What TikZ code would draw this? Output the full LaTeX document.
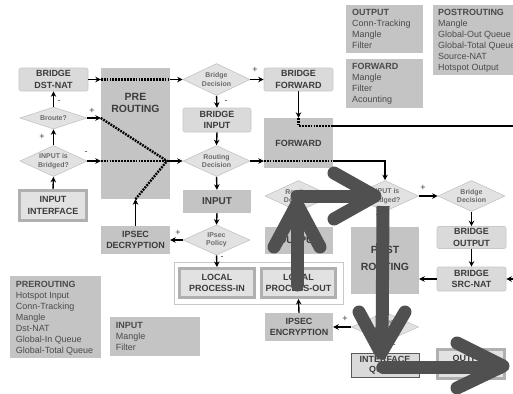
\documentclass[tikz,border=0pt]{standalone}
\usepackage{fontspec}
\setmainfont{Liberation Sans}
\usetikzlibrary{shapes.geometric,arrows.meta}
\definecolor{lfill}{RGB}{218,218,218}
\definecolor{lbord}{RGB}{200,200,200}
\definecolor{dfill}{RGB}{196,196,196}
\definecolor{difill}{RGB}{226,226,226}
\definecolor{dibord}{RGB}{196,196,196}
\definecolor{txt}{RGB}{60,60,60}
\definecolor{ltxt}{RGB}{75,75,75}
\definecolor{bigc}{RGB}{80,80,80}
\definecolor{bevface}{RGB}{226,226,226}
\definecolor{bevedge}{RGB}{176,176,176}
\begin{document}
\begin{tikzpicture}[x=1bp,y=-1bp,
 lbox/.style={rectangle,rounded corners=2bp,fill=lfill,draw=lbord,line width=0.6bp,inner sep=0pt,align=center,text=txt,font=\bfseries\fontsize{9}{11.5}\selectfont},
 dbox/.style={rectangle,fill=dfill,inner sep=0pt,align=center,text=txt,font=\bfseries\fontsize{9}{11}\selectfont},
 lstbox/.style={rectangle,fill=dfill,inner sep=0pt},
 lsttxt/.style={anchor=north west,inner sep=0pt,align=left,text=ltxt,font=\fontsize{9}{11}\selectfont},
 dia/.style={diamond,aspect=2,fill=difill,draw=dibord,line width=0.6bp,inner sep=0pt,align=center,text=black!58,font=\bfseries\fontsize{7}{8.6}\selectfont,minimum width=67bp,minimum height=31bp},
 bev/.style={rectangle,fill=bevface,draw=bevedge,line width=2.6bp,inner sep=0pt,align=center,text=txt,font=\bfseries\fontsize{9}{11.6}\selectfont},
 arr/.style={draw=black,line width=1.4bp,-{Stealth[length=5.5bp,width=5.5bp]}},
 thinl/.style={draw=black,line width=1.4bp},
 dots/.style={draw=black,line width=2.4bp,dash pattern=on 1.8bp off 1.1bp},
 pm/.style={inner sep=0pt,text=txt,font=\fontsize{9}{9}\selectfont},
 big/.style={draw=bigc,line width=13bp,line cap=round,line join=round},
]
\useasboundingbox (0,0) rectangle (513,393);
\clip (0,0) rectangle (513,393);
\fill[white] (0,0) rectangle (513,393);

% list boxes
\node[lstbox,minimum width=77bp,minimum height=48bp] (lout) at (384.5,29) {};
\node[lsttxt] (loutt) at (352,9.1) {\textbf{OUTPUT}\\Conn-Tracking\\Mangle\\Filter};
\node[lstbox,minimum width=77bp,minimum height=49bp] (lfwd) at (384.5,83.5) {};
\node[lsttxt] (lfwdt) at (352,63.5) {\textbf{FORWARD}\\Mangle\\Filter\\Acounting};
\node[lstbox,minimum width=90bp,minimum height=70bp] (lpost) at (478,40) {};
\node[lsttxt] (lpostt) at (438,9.1) {\textbf{POSTROUTING}\\Mangle\\Global-Out Queue\\Global-Total Queue\\Source-NAT\\Hotspot Output};
\node[lstbox,minimum width=91bp,minimum height=82bp] (lpre) at (55.5,317) {};
\node[lsttxt] (lpret) at (15.7,281.1) {\textbf{PREROUTING}\\Hotspot Input\\Conn-Tracking\\Mangle\\Dst-NAT\\Global-In Queue\\Global-Total Queue};
\node[lstbox,minimum width=90bp,minimum height=39bp] (linp) at (155,336.5) {};
\node[lsttxt] (linpt) at (115.7,321.8) {\textbf{INPUT}\\Mangle\\Filter};

% dark boxes
\node[dbox,minimum width=69bp,minimum height=131bp] (pre) at (135.5,133.5) {};
\node[dbox,fill=none,font=\bfseries\fontsize{10.5}{12}\selectfont] (pretxt) at (135.5,103) {PRE\\ROUTING};
\node[dbox,minimum width=69bp,minimum height=50bp] (fwd) at (298.5,143) {FORWARD};
\node[dbox,minimum width=68bp,minimum height=67bp] (post) at (385,260.5) {};
\node[dbox,fill=none,font=\bfseries\fontsize{10.5}{17}\selectfont] (posttxt) at (385,258) {POST\\ROUTING};
\node[dbox,minimum width=68bp,minimum height=23bp,font=\bfseries\fontsize{10}{12}\selectfont] (inp) at (217,201.5) {INPUT};
\node[dbox,minimum width=69bp,minimum height=28bp] (ipdec) at (135.5,240) {IPSEC\\DECRYPTION};
\node[dbox,minimum width=68bp,minimum height=27bp,font=\bfseries\fontsize{10}{12}\selectfont] (outb) at (299,240.5) {OUTPUT};
\node[dbox,minimum width=68bp,minimum height=28bp,font=\bfseries\fontsize{9}{11.5}\selectfont] (ipenc) at (299,327) {IPSEC\\ENCRYPTION};

% light boxes
\node[lbox,minimum width=69bp,minimum height=23bp] (bdn) at (53.5,79.5) {BRIDGE\\DST-NAT};
\node[lbox,minimum width=69bp,minimum height=23bp] (bfwd) at (298.5,79.5) {BRIDGE\\FORWARD};
\node[lbox,minimum width=68bp,minimum height=24bp] (binp) at (217,120) {BRIDGE\\INPUT};
\node[lbox,minimum width=69bp,minimum height=22bp] (bout) at (471.5,237.5) {BRIDGE\\OUTPUT};
\node[lbox,minimum width=69bp,minimum height=24bp] (bsnat) at (471.5,279) {BRIDGE\\SRC-NAT};

% diamonds
\node[dia,minimum height=22bp,aspect=3] (broute) at (53.5,118) {Broute?};
\node[dia] (inb1) at (53.5,161) {INPUT is\\Bridged?};
\node[dia,minimum height=32bp] (bdec1) at (216.5,79.5) {Bridge\\Decision};
\node[dia] (rdec1) at (216.5,161) {Routing\\Decision};
\node[dia,minimum height=30bp] (ippol1) at (216.5,240) {IPsec\\Policy};
\node[dia] (rdec2) at (298.5,196) {Routing\\Decision};
\node[dia] (inb2) at (385,196) {INPUT is\\Bridged?};
\node[dia] (bdec2) at (471.5,196) {Bridge\\Decision};
\node[dia,minimum height=30bp] (ippol2) at (385,327) {IPsec\\Policy};

% bevelled boxes
\node[bev,minimum width=66.4bp,minimum height=30.4bp] (inif) at (53,205.5) {INPUT\\INTERFACE};
\node[rectangle,draw=lbord,fill=white,line width=0.8bp,minimum width=169bp,minimum height=42bp,inner sep=0pt] (lpframe) at (258.5,283) {};
\node[bev,minimum width=75.4bp,minimum height=29.4bp] (lpin) at (217,283) {LOCAL\\PROCESS-IN};
\node[bev,minimum width=74.4bp,minimum height=29.4bp] (lpout) at (298.5,283) {LOCAL\\PROCESS-OUT};
\node[bev,minimum width=67.4bp,minimum height=29.4bp] (outif) at (471,364) {OUTPUT\\INTERFACE};
\node[rectangle,fill=lfill,draw=black!65,line width=0.8bp,minimum width=68bp,minimum height=24bp,inner sep=0pt,align=center,text=txt,font=\bfseries\fontsize{9}{10}\selectfont] (ifq) at (385,365) {INTERFACE\\QUEUE};

% connectors
\coordinate (mrg) at (167,161);
\draw[arr] (bdn.east) -- (bdn.east -| pre.west);
\draw[dots] (bdn.east -| pre.west) -- (bdn.east -| pre.east);
\draw[arr] (bdn.east -| pre.east) -- (bdec1.west);
\draw[arr] (broute.north) -- (bdn.south);
\draw[arr] (inb1.north) -- (broute.south);
\draw[arr] (inif.north) -- (inb1.south);
\draw[arr] (broute.east) -- (broute.east -| pre.west);
\draw[dots] (broute.east -| pre.west) -- (mrg);
\draw[arr] (inb1.east) -- (inb1.east -| pre.west);
\draw[dots] (inb1.east -| pre.west) -- (mrg);
\coordinate (ipd) at (ipdec.north |- pre.south);
\draw[arr] (ipdec.north) -- (ipd);
\draw[dots] (ipd) -- (mrg);
\draw[arr] (mrg) -- (rdec1.west);
\draw[arr] (bdec1.east) -- (bfwd.west);
\draw[arr] (bdec1.south) -- (binp.north);
\draw[arr] (binp.south) -- (rdec1.north);
\draw[arr] (rdec1.east) -- (rdec1.east -| fwd.west);
\draw[dots] (rdec1.east -| fwd.west) -- (rdec1.east -| fwd.east);
\draw[arr] (rdec1.east -| fwd.east) -| (inb2.north);
\draw[arr] (rdec1.south) -- (inp.north);
\draw[arr] (inp.south) -- (ippol1.north);
\draw[arr] (ippol1.west) -- (ipdec.east);
\draw[arr] (ippol1.south) -- (lpin.north);
\draw[arr] (bfwd.south) -- (bfwd.south |- fwd.north);
\coordinate (fk) at (298.5,126);
\draw[dots] (bfwd.south |- fwd.north) -- (fk) -- (fk -| fwd.east);
\coordinate (redge1) at (513,126);
\draw[thinl] (fk -| fwd.east) -- (redge1);
\coordinate (redge2) at (513,279);
\draw[arr] (redge2) -- (bsnat.east);
\draw[arr] (inb2.east) -- (bdec2.west);
\draw[arr] (bdec2.south) -- (bout.north);
\draw[arr] (bout.south) -- (bsnat.north);
\draw[arr] (bsnat.west) -- (bsnat.west -| post.east);
\draw[arr] (inb2.south) -- (post.north);
\draw[arr] (post.south) -- (ippol2.north);
\draw[arr] (ippol2.west) -- (ipenc.east);
\draw[arr] (ipenc.north) -- (lpout.south);
\draw[arr] (ippol2.south) -- (ifq.north);

% plus / minus labels
\node[pm] (p1) at (59,102) {-};
\node[pm] (p2) at (42,137) {+};
\node[pm] (p3) at (92,111) {+};
\node[pm] (p4) at (86,153) {-};
\node[pm] (p5) at (255,70) {+};
\node[pm] (p6) at (226,102) {-};
\node[pm] (p7) at (178,233) {+};
\node[pm] (p8) at (222,258) {-};
\node[pm] (p9) at (423,188) {+};
\node[pm] (p10) at (377,216) {-};
\node[pm] (p11) at (345,319) {+};
\node[pm] (p12) at (394,346) {-};

% big overlay arrows
\draw[big] (297,285) -- (297,205);
\draw[big] (274,247) -- (297,204) -- (320,247);
\draw[big] (297,196) -- (372,196);
\draw[big] (334,173) -- (375,196) -- (334,219);
\draw[big,line cap=butt] (383,206) -- (382,350);
\draw[big] (359,312) -- (381,353) -- (405,312);
\draw[big] (383,367) -- (500,367);
\draw[big] (457,343) -- (503,366) -- (457,388);
\end{tikzpicture}
\end{document}
